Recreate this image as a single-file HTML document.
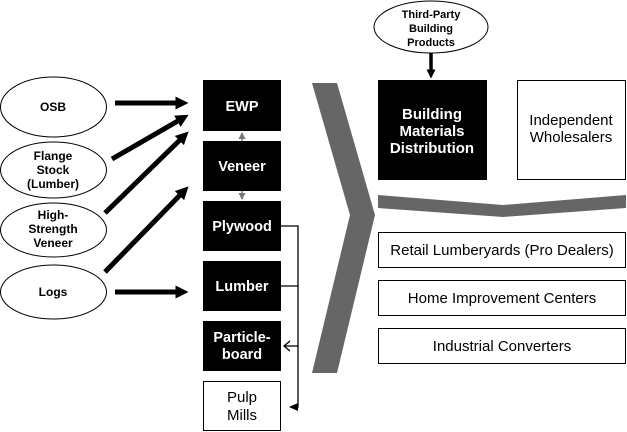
<!DOCTYPE html>
<html><head><meta charset="utf-8"><style>
html,body{margin:0;padding:0;background:#fff;}
svg{display:block;font-family:"Liberation Sans",Arial,sans-serif;}
</style></head><body>
<svg width="627" height="432" viewBox="0 0 627 432" xmlns="http://www.w3.org/2000/svg">
<defs>
<marker id="ah" markerWidth="2.6" markerHeight="2.6" refX="1.3" refY="1.3" orient="auto" markerUnits="strokeWidth"><path d="M0,0 L2.6,1.3 L0,2.6 z" fill="#000"/></marker>
<marker id="sa" markerWidth="9" markerHeight="8" refX="8" refY="4" orient="auto" markerUnits="userSpaceOnUse"><path d="M0,0 L9,4 L0,8 z" fill="#000"/></marker>
<marker id="ga" markerWidth="7" markerHeight="7" refX="6" refY="3.5" orient="auto" markerUnits="userSpaceOnUse"><path d="M0,0 L7,3.5 L0,7 z" fill="#777"/></marker>
</defs>
<g fill="#fff" stroke="#000" stroke-width="1">
<ellipse cx="53.5" cy="107" rx="53" ry="30"/>
<ellipse cx="53.5" cy="170" rx="53" ry="28"/>
<ellipse cx="53.5" cy="230" rx="53" ry="27"/>
<ellipse cx="53.5" cy="292" rx="53" ry="27"/>
<ellipse cx="431" cy="27" rx="57" ry="26"/>
</g>
<g font-weight="bold" font-size="12" text-anchor="middle" fill="#000">
<text x="53" y="111">OSB</text>
<text x="53" y="160">Flange</text><text x="53" y="174">Stock</text><text x="53" y="188">(Lumber)</text>
<text x="53" y="219">High-</text><text x="53" y="233">Strength</text><text x="53" y="247">Veneer</text>
<text x="53" y="296">Logs</text>
<text x="431" y="18" font-size="11">Third-Party</text><text x="431" y="32" font-size="11">Building</text><text x="431" y="46" font-size="11">Products</text>
</g>
<g stroke="#000" stroke-width="5">
<line x1="115" y1="103" x2="182" y2="103" marker-end="url(#ah)"/>
<line x1="112" y1="159" x2="183" y2="118" marker-end="url(#ah)"/>
<line x1="105" y1="213" x2="184" y2="136" marker-end="url(#ah)"/>
<line x1="105" y1="272" x2="184" y2="191" marker-end="url(#ah)"/>
<line x1="115" y1="292" x2="182" y2="292" marker-end="url(#ah)"/>
<line x1="431" y1="53" x2="431" y2="74" stroke-width="3.5" marker-end="url(#ah)"/>
</g>
<g fill="#000">
<rect x="203" y="80" width="78" height="51"/>
<rect x="203" y="141" width="78" height="50"/>
<rect x="203" y="201" width="78" height="50"/>
<rect x="203" y="261" width="78" height="50"/>
<rect x="203" y="321" width="78" height="50"/>
<rect x="378" y="80" width="109" height="100"/>
</g>
<rect x="203.5" y="381.5" width="77" height="49" fill="#fff" stroke="#000"/>
<rect x="517.5" y="80.5" width="108" height="99" fill="#fff" stroke="#000"/>
<g stroke="#777" stroke-width="1.5">
<line x1="242" y1="141" x2="242" y2="133" marker-end="url(#ga)"/>
<line x1="242" y1="191" x2="242" y2="199" marker-end="url(#ga)"/>
</g>
<g stroke="#000" stroke-width="1.3" fill="none">
<polyline points="281,226 298,226 298,407 290,407" marker-end="url(#sa)"/>
<line x1="281" y1="286" x2="298" y2="286"/>
<line x1="298" y1="346" x2="284" y2="346"/>
<polyline points="290,341 284,346 290,351"/>
</g>
<g fill="#fff" font-weight="bold" font-size="14.5" text-anchor="middle">
<text x="242" y="111">EWP</text>
<text x="242" y="171">Veneer</text>
<text x="242" y="231">Plywood</text>
<text x="242" y="291">Lumber</text>
<text x="242" y="342">Particle-</text><text x="242" y="359">board</text>
<text x="432" y="119" font-size="15">Building</text><text x="432" y="136" font-size="15">Materials</text><text x="432" y="153" font-size="15">Distribution</text>
</g>
<g font-size="15" text-anchor="middle" fill="#000">
<text x="242" y="402">Pulp</text><text x="242" y="420">Mills</text>
<text x="571" y="125">Independent</text><text x="571" y="142">Wholesalers</text>
<text x="502" y="255">Retail Lumberyards (Pro Dealers)</text>
<text x="502" y="303">Home Improvement Centers</text>
<text x="502" y="351">Industrial Converters</text>
</g>
<polygon points="312,83 337,83 375,215 337,373 312,373 350,215" fill="#666"/>
<polygon points="378,195 503,205 626,195 626,208 503,217 378,208" fill="#666"/>
<g fill="none" stroke="#000">
<rect x="378.5" y="232.5" width="247" height="35"/>
<rect x="378.5" y="280.5" width="247" height="35"/>
<rect x="378.5" y="328.5" width="247" height="35"/>
</g>
</svg>
</body></html>
